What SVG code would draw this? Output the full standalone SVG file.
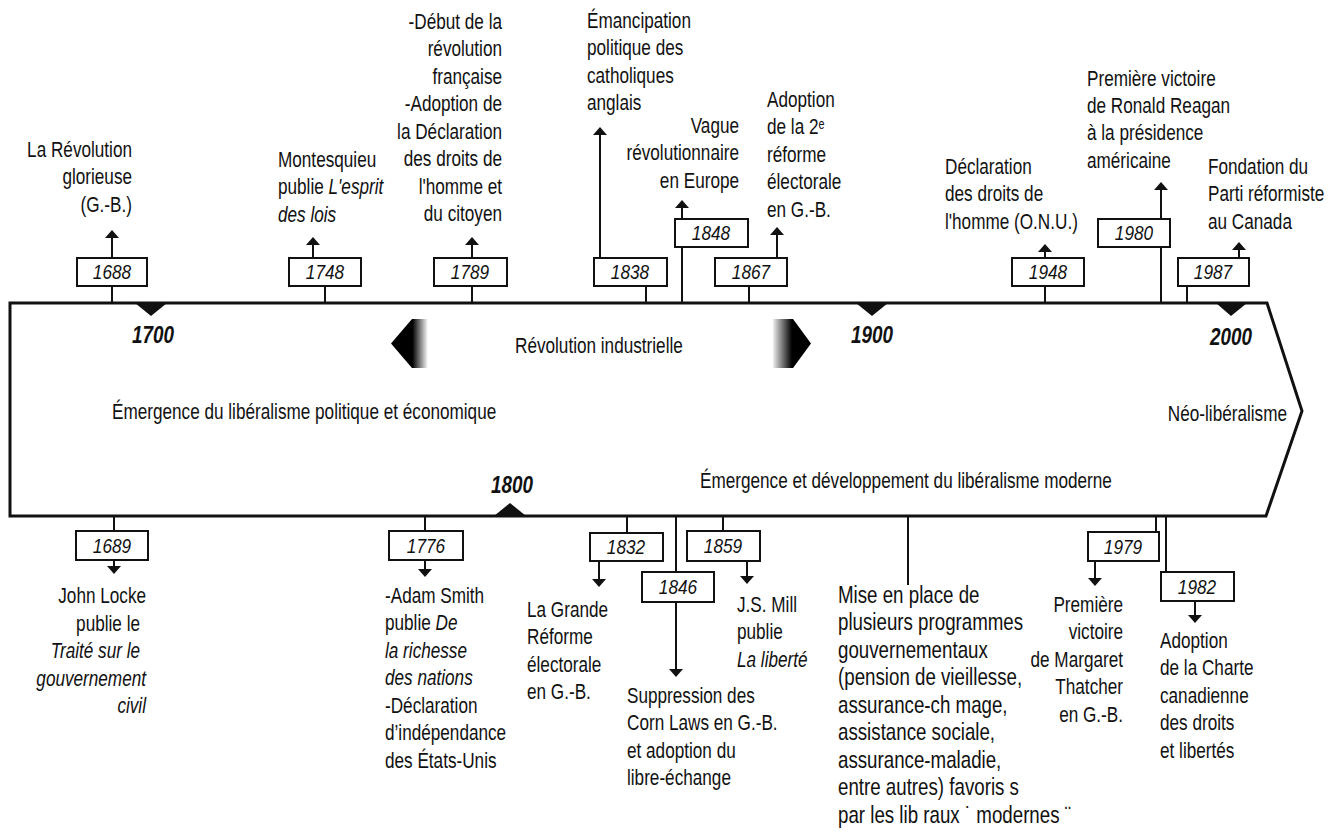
<svg xmlns="http://www.w3.org/2000/svg" width="1337" height="832" viewBox="0 0 1337 832">
<style>
.t{font-family:"Liberation Sans",Arial,Helvetica,sans-serif;font-size:22px;fill:#111}
.i{font-style:italic}
.m{font-size:24px}
.yr{font-family:"Liberation Sans",Arial,sans-serif;font-style:italic;font-size:21px;fill:#111;text-anchor:middle}
.big{font-family:"Liberation Sans",Arial,sans-serif;font-style:italic;font-weight:bold;font-size:23px;fill:#111;text-anchor:middle}
.e{text-anchor:end}
.box{fill:#fff;stroke:#111;stroke-width:2}
.ln{stroke:#111;stroke-width:2;fill:none}
.ar{marker-end:url(#ah)}
.band{fill:#fff;stroke:#111;stroke-width:3;stroke-linejoin:miter}
.tri{fill:#111}
</style>
<defs>
<marker id="ah" viewBox="0 0 8 14" refX="0" refY="7" markerWidth="8" markerHeight="14" markerUnits="userSpaceOnUse" orient="auto"><path d="M0,0 L8,7 L0,14 z" fill="#111"/></marker>
<linearGradient id="gl" x1="0" y1="0" x2="1" y2="0"><stop offset="0" stop-color="#000"/><stop offset="0.58" stop-color="#000"/><stop offset="1" stop-color="#fff"/></linearGradient>
<linearGradient id="gr" x1="0" y1="0" x2="1" y2="0"><stop offset="0" stop-color="#eee"/><stop offset="0.5" stop-color="#000"/><stop offset="1" stop-color="#000"/></linearGradient>
</defs>

<g id="band">
<path class="band" d="M10,303 L1267,303 L1302,411 L1266,516 L10,516 Z"/>
<polygon class="tri" points="135,303 167,303 151,316"/>
<polygon class="tri" points="494,516 526,516 510,503"/>
<polygon class="tri" points="856,303 888,303 872,316"/>
<polygon class="tri" points="1216,303 1247,303 1231,316"/>
<text class="big" transform="translate(153,343) scale(0.82,1)">1700</text>
<text class="big" transform="translate(512,493) scale(0.82,1)">1800</text>
<text class="big" transform="translate(872,343) scale(0.82,1)">1900</text>
<text class="big" transform="translate(1231,345) scale(0.82,1)">2000</text>
<polygon points="391,343.5 412,319 428,319 428,368 412,368" fill="url(#gl)"/>
<polygon points="773,319 793,319 811,343.5 793,368 773,368" fill="url(#gr)"/>
<text class="t" transform="translate(515,353) scale(0.78,1)">Révolution industrielle</text>
<text class="t" transform="translate(112,419) scale(0.78,1)">Émergence du libéralisme politique et économique</text>
<text class="t e" transform="translate(1287,421) scale(0.78,1)">Néo-libéralisme</text>
<text class="t" transform="translate(700,488) scale(0.78,1)">Émergence et développement du libéralisme moderne</text>
</g>

<g id="connectors">
<line class="ln" x1="112" y1="286" x2="112" y2="303"/>
<line class="ln ar" x1="112" y1="258" x2="112" y2="238"/>
<line class="ln" x1="325" y1="286" x2="325" y2="303"/>
<line class="ln ar" x1="313" y1="258" x2="313" y2="245"/>
<line class="ln" x1="472" y1="286" x2="472" y2="303"/>
<line class="ln ar" x1="472" y1="258" x2="472" y2="245"/>
<line class="ln" x1="646" y1="286" x2="646" y2="303"/>
<line class="ln ar" x1="600" y1="258" x2="600" y2="135"/>
<line class="ln" x1="682" y1="247" x2="682" y2="303"/>
<line class="ln ar" x1="682" y1="219" x2="682" y2="208"/>
<line class="ln" x1="749" y1="286" x2="749" y2="303"/>
<line class="ln ar" x1="777" y1="258" x2="777" y2="235"/>
<line class="ln" x1="1045" y1="286" x2="1045" y2="303"/>
<line class="ln ar" x1="1045" y1="258" x2="1045" y2="252"/>
<line class="ln" x1="1161" y1="247" x2="1161" y2="303"/>
<line class="ln ar" x1="1161" y1="219" x2="1161" y2="190"/>
<line class="ln" x1="1187" y1="286" x2="1187" y2="303"/>
<line class="ln ar" x1="1239" y1="258" x2="1239" y2="250"/>

<line class="ln" x1="114" y1="516" x2="114" y2="531"/>
<line class="ln ar" x1="114" y1="560" x2="114" y2="566"/>
<line class="ln" x1="425" y1="516" x2="425" y2="531"/>
<line class="ln ar" x1="425" y1="560" x2="425" y2="569"/>
<line class="ln" x1="627" y1="516" x2="627" y2="533"/>
<line class="ln ar" x1="599" y1="561" x2="599" y2="579"/>
<line class="ln" x1="676" y1="516" x2="676" y2="572"/>
<line class="ln ar" x1="676" y1="602" x2="676" y2="669"/>
<line class="ln" x1="723" y1="516" x2="723" y2="531"/>
<line class="ln ar" x1="747" y1="561" x2="747" y2="576"/>
<line class="ln" x1="908" y1="516" x2="908" y2="585"/>
<line class="ln" x1="1156" y1="516" x2="1156" y2="532"/>
<line class="ln ar" x1="1095" y1="561" x2="1095" y2="578"/>
<line class="ln" x1="1166" y1="516" x2="1166" y2="572"/>
<line class="ln ar" x1="1195" y1="601" x2="1195" y2="615"/>
</g>

<g id="e1688">
<rect class="box" x="77" y="258" width="70" height="28"/>
<text class="yr" transform="translate(112,279) scale(0.82,1)">1688</text>
<text class="t e" transform="translate(132,157) scale(0.78,1)"><tspan x="0" dy="0">La Révolution</tspan><tspan x="0" dy="27.5">glorieuse</tspan><tspan x="0" dy="27.5">(G.-B.)</tspan></text>
</g>
<g id="e1748">
<rect class="box" x="289" y="258" width="72" height="28"/>
<text class="yr" transform="translate(325,279) scale(0.82,1)">1748</text>
<text class="t" transform="translate(278,167) scale(0.78,1)"><tspan x="0" dy="0">Montesquieu</tspan><tspan x="0" dy="27.5">publie <tspan class="i">L'esprit</tspan></tspan><tspan x="0" dy="27.5" class="i">des lois</tspan></text>
</g>
<g id="e1789">
<rect class="box" x="434" y="258" width="73" height="28"/>
<text class="yr" transform="translate(470,279) scale(0.82,1)">1789</text>
<text class="t e" transform="translate(502,29) scale(0.78,1)"><tspan x="0" dy="0">-Début de la</tspan><tspan x="0" dy="27.5">révolution</tspan><tspan x="0" dy="27.5">française</tspan><tspan x="0" dy="27.5">-Adoption de</tspan><tspan x="0" dy="27.5">la Déclaration</tspan><tspan x="0" dy="27.5">des droits de</tspan><tspan x="0" dy="27.5">l'homme et</tspan><tspan x="0" dy="27.5">du citoyen</tspan></text>
</g>
<g id="e1838">
<rect class="box" x="594" y="258" width="73" height="28"/>
<text class="yr" transform="translate(630,279) scale(0.82,1)">1838</text>
<text class="t" transform="translate(587,28) scale(0.78,1)"><tspan x="0" dy="0">Émancipation</tspan><tspan x="0" dy="27.5">politique des</tspan><tspan x="0" dy="27.5">catholiques</tspan><tspan x="0" dy="27.5">anglais</tspan></text>
</g>
<g id="e1848">
<rect class="box" x="675" y="219" width="73" height="28"/>
<text class="yr" transform="translate(711,240) scale(0.82,1)">1848</text>
<text class="t e" transform="translate(739,133) scale(0.78,1)"><tspan x="0" dy="0">Vague</tspan><tspan x="0" dy="27.5">révolutionnaire</tspan><tspan x="0" dy="27.5">en Europe</tspan></text>
</g>
<g id="e1867">
<rect class="box" x="715" y="258" width="72" height="28"/>
<text class="yr" transform="translate(751,279) scale(0.82,1)">1867</text>
<text class="t" transform="translate(767,107) scale(0.78,1)"><tspan x="0" dy="0">Adoption</tspan><tspan x="0" dy="27.5">de la 2<tspan font-size="14" baseline-shift="40%">e</tspan></tspan><tspan x="0" dy="27.5">réforme</tspan><tspan x="0" dy="27.5">électorale</tspan><tspan x="0" dy="27.5">en G.-B.</tspan></text>
</g>
<g id="e1948">
<rect class="box" x="1012" y="258" width="72" height="28"/>
<text class="yr" transform="translate(1048,279) scale(0.82,1)">1948</text>
<text class="t" transform="translate(945,174) scale(0.78,1)"><tspan x="0" dy="0">Déclaration</tspan><tspan x="0" dy="27.5">des droits de</tspan><tspan x="0" dy="27.5">l'homme (O.N.U.)</tspan></text>
</g>
<g id="e1980">
<rect class="box" x="1098" y="219" width="72" height="28"/>
<text class="yr" transform="translate(1134,240) scale(0.82,1)">1980</text>
<text class="t" transform="translate(1087,85.5) scale(0.78,1)"><tspan x="0" dy="0">Première victoire</tspan><tspan x="0" dy="27.5">de Ronald Reagan</tspan><tspan x="0" dy="27.5">à la présidence</tspan><tspan x="0" dy="27.5">américaine</tspan></text>
</g>
<g id="e1987">
<rect class="box" x="1178" y="258" width="71" height="28"/>
<text class="yr" transform="translate(1213,279) scale(0.82,1)">1987</text>
<text class="t" transform="translate(1208,174) scale(0.78,1)"><tspan x="0" dy="0">Fondation du</tspan><tspan x="0" dy="27.5">Parti réformiste</tspan><tspan x="0" dy="27.5">au Canada</tspan></text>
</g>

<g id="e1689">
<rect class="box" x="76" y="531" width="72" height="29"/>
<text class="yr" transform="translate(112,553) scale(0.82,1)">1689</text>
<text class="t e" transform="translate(146,603) scale(0.78,1)">John Locke</text>
<text class="t e" transform="translate(140,630.5) scale(0.78,1)"><tspan x="0" dy="0">publie le</tspan><tspan x="0" dy="27.5" class="i">Traité sur le</tspan></text>
<text class="t e i" transform="translate(146,685.5) scale(0.78,1)"><tspan x="0" dy="0">gouvernement</tspan><tspan x="0" dy="27.5">civil</tspan></text>
</g>
<g id="e1776">
<rect class="box" x="389" y="531" width="74" height="29"/>
<text class="yr" transform="translate(426,553) scale(0.82,1)">1776</text>
<text class="t" transform="translate(385,603) scale(0.78,1)"><tspan x="0" dy="0">-Adam Smith</tspan><tspan x="0" dy="27.5">publie <tspan class="i">De</tspan></tspan><tspan x="0" dy="27.5" class="i">la richesse</tspan><tspan x="0" dy="27.5" class="i">des nations</tspan><tspan x="0" dy="27.5">-Déclaration</tspan><tspan x="0" dy="27.5">d’indépendance</tspan><tspan x="0" dy="27.5">des États-Unis</tspan></text>
</g>
<g id="e1832">
<rect class="box" x="590" y="533" width="73" height="28"/>
<text class="yr" transform="translate(626,554) scale(0.82,1)">1832</text>
<text class="t" transform="translate(527,617) scale(0.78,1)"><tspan x="0" dy="0">La Grande</tspan><tspan x="0" dy="27.5">Réforme</tspan><tspan x="0" dy="27.5">électorale</tspan><tspan x="0" dy="27.5">en G.-B.</tspan></text>
</g>
<g id="e1846">
<rect class="box" x="642" y="572" width="72" height="30"/>
<text class="yr" transform="translate(678,594) scale(0.82,1)">1846</text>
<text class="t" transform="translate(627,703) scale(0.78,1)"><tspan x="0" dy="0">Suppression des</tspan><tspan x="0" dy="27.5">Corn Laws en G.-B.</tspan><tspan x="0" dy="27.5">et adoption du</tspan><tspan x="0" dy="27.5">libre-échange</tspan></text>
</g>
<g id="e1859">
<rect class="box" x="687" y="531" width="73" height="30"/>
<text class="yr" transform="translate(723,553) scale(0.82,1)">1859</text>
<text class="t" transform="translate(737,612) scale(0.78,1)"><tspan x="0" dy="0">J.S. Mill</tspan><tspan x="0" dy="27.5">publie</tspan><tspan x="0" dy="27.5" class="i">La liberté</tspan></text>
</g>
<g id="eMise">
<text class="t m" transform="translate(838,603) scale(0.78,1)"><tspan x="0" dy="0">Mise en place de</tspan><tspan x="0" dy="27.5">plusieurs programmes</tspan><tspan x="0" dy="27.5">gouvernementaux</tspan><tspan x="0" dy="27.5">(pension de vieillesse,</tspan><tspan x="0" dy="27.5">assurance-ch mage,</tspan><tspan x="0" dy="27.5">assistance sociale,</tspan><tspan x="0" dy="27.5">assurance-maladie,</tspan><tspan x="0" dy="27.5">entre autres) favoris s</tspan><tspan x="0" dy="27.5">par les lib raux ˙ modernes ¨</tspan></text>
</g>
<g id="e1979">
<rect class="box" x="1088" y="532" width="71" height="29"/>
<text class="yr" transform="translate(1123,554) scale(0.82,1)">1979</text>
<text class="t e" transform="translate(1123,612) scale(0.78,1)"><tspan x="0" dy="0">Première</tspan><tspan x="0" dy="27.5">victoire</tspan><tspan x="0" dy="27.5">de Margaret</tspan><tspan x="0" dy="27.5">Thatcher</tspan><tspan x="0" dy="27.5">en G.-B.</tspan></text>
</g>
<g id="e1982">
<rect class="box" x="1161" y="572" width="73" height="29"/>
<text class="yr" transform="translate(1197,594) scale(0.82,1)">1982</text>
<text class="t" transform="translate(1160,648) scale(0.78,1)"><tspan x="0" dy="0">Adoption</tspan><tspan x="0" dy="27.5">de la Charte</tspan><tspan x="0" dy="27.5">canadienne</tspan><tspan x="0" dy="27.5">des droits</tspan><tspan x="0" dy="27.5">et libertés</tspan></text>
</g>
</svg>
